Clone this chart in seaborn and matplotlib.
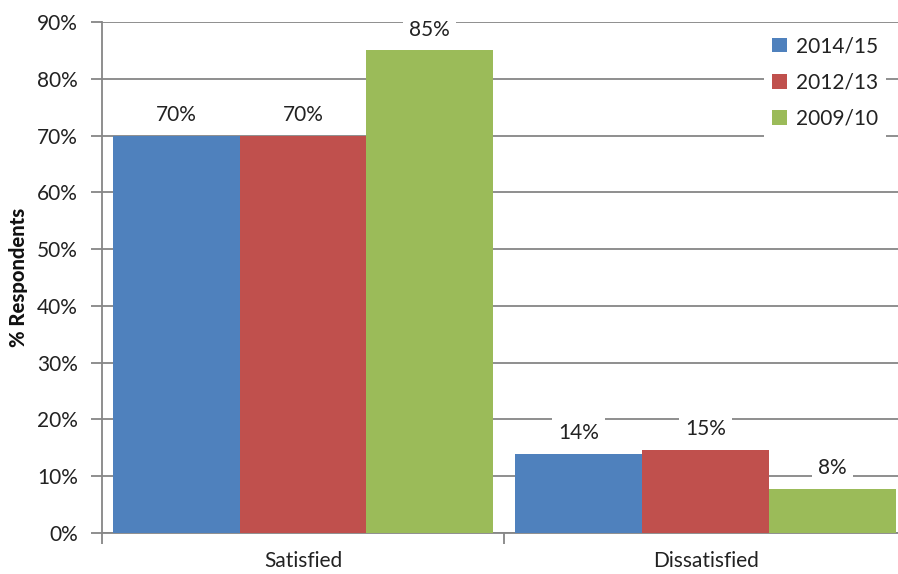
import matplotlib
matplotlib.use("Agg")
import matplotlib.pyplot as plt
from matplotlib.ticker import FixedLocator, FuncFormatter
import seaborn as sns
import pandas as pd

# Survey results: share of respondents by outcome and survey year
categories = ["Satisfied", "Dissatisfied"]
years = ["2014/15", "2012/13", "2009/10"]
values_2014 = [70.0, 14.0]
values_2012 = [70.0, 14.7]
values_2009 = [85.0, 7.7]
y_ticks = [0, 10, 20, 30, 40, 50, 60, 70, 80, 90]

palette = ["#4F81BD", "#C0504D", "#9BBB59"]
grid_color = "#868686"

df = pd.DataFrame({
    "outcome": categories * 3,
    "year": [years[0]] * 2 + [years[1]] * 2 + [years[2]] * 2,
    "pct": values_2014 + values_2012 + values_2009,
})

sns.set_theme(style="white")
plt.rcParams["font.family"] = ["Lato", "DejaVu Sans"]

W, H = 898, 574
fig = plt.figure(figsize=(W / 100, H / 100), dpi=100)
ax = fig.add_axes([101.7 / W, (H - 533) / H, 805.2 / W, 511 / H])

sns.barplot(data=df, x="outcome", y="pct", hue="year", order=categories,
            hue_order=years, palette=palette, width=0.945, saturation=1,
            edgecolor="none", linewidth=0, ax=ax, zorder=3)

ax.set_xlim(-0.5, 1.5)
ax.set_ylim(0, 90)

# Axes styling: gray gridlines, left and bottom spines only
for side in ("top", "right"):
    ax.spines[side].set_visible(False)
for side in ("left", "bottom"):
    ax.spines[side].set_color(grid_color)
    ax.spines[side].set_linewidth(1.3)
ax.yaxis.set_major_locator(FixedLocator(y_ticks))
ax.yaxis.set_major_formatter(FuncFormatter(lambda v, p: f"{v:.0f}%"))
ax.grid(axis="y", color=grid_color, linewidth=1.3, zorder=0)
ax.set_axisbelow(True)
ax.tick_params(axis="y", which="major", left=True, length=8, width=1.3,
               color=grid_color, direction="out", pad=9, labelsize=15,
               labelcolor="#222222")
ax.tick_params(axis="x", which="major", bottom=False, length=0, pad=13,
               labelsize=15, labelcolor="#222222")
ax.xaxis.set_minor_locator(FixedLocator([-0.5, 0.5, 1.5]))
ax.tick_params(axis="x", which="minor", bottom=True, length=8, width=1.3,
               color=grid_color, direction="out")

ax.set_xlabel("")
ax.set_ylabel("% Respondents", fontsize=14.5, fontweight="black", color="#111111")
ax.yaxis.set_label_coords(-0.092, 0.5)

# Value labels above each bar on a white box
for container in ax.containers:
    for bar in container:
        h = bar.get_height()
        ax.annotate(f"{h:.0f}%", (bar.get_x() + bar.get_width() / 2, h),
                    xytext=(0, 15), textcoords="offset points",
                    ha="center", va="center", fontsize=15, color="#222222",
                    bbox=dict(boxstyle="square,pad=0.3", fc="white", ec="none"),
                    zorder=5)

# Legend with square swatches on a white, borderless box
handles, labels = ax.get_legend_handles_labels()
if ax.get_legend() is not None:
    ax.get_legend().remove()
leg = fig.legend(handles, labels, loc="upper left",
                 bbox_to_anchor=(764 / W, 1 - 28 / H), bbox_transform=fig.transFigure,
                 frameon=True, facecolor="white", edgecolor="none", framealpha=1,
                 fancybox=False, fontsize=15, handlelength=0.72, handleheight=0.72,
                 handletextpad=0.4, labelspacing=0.78, borderpad=0.4,
                 borderaxespad=0)
for t in leg.get_texts():
    t.set_color("#222222")

fig.savefig("out.png", dpi=100)
